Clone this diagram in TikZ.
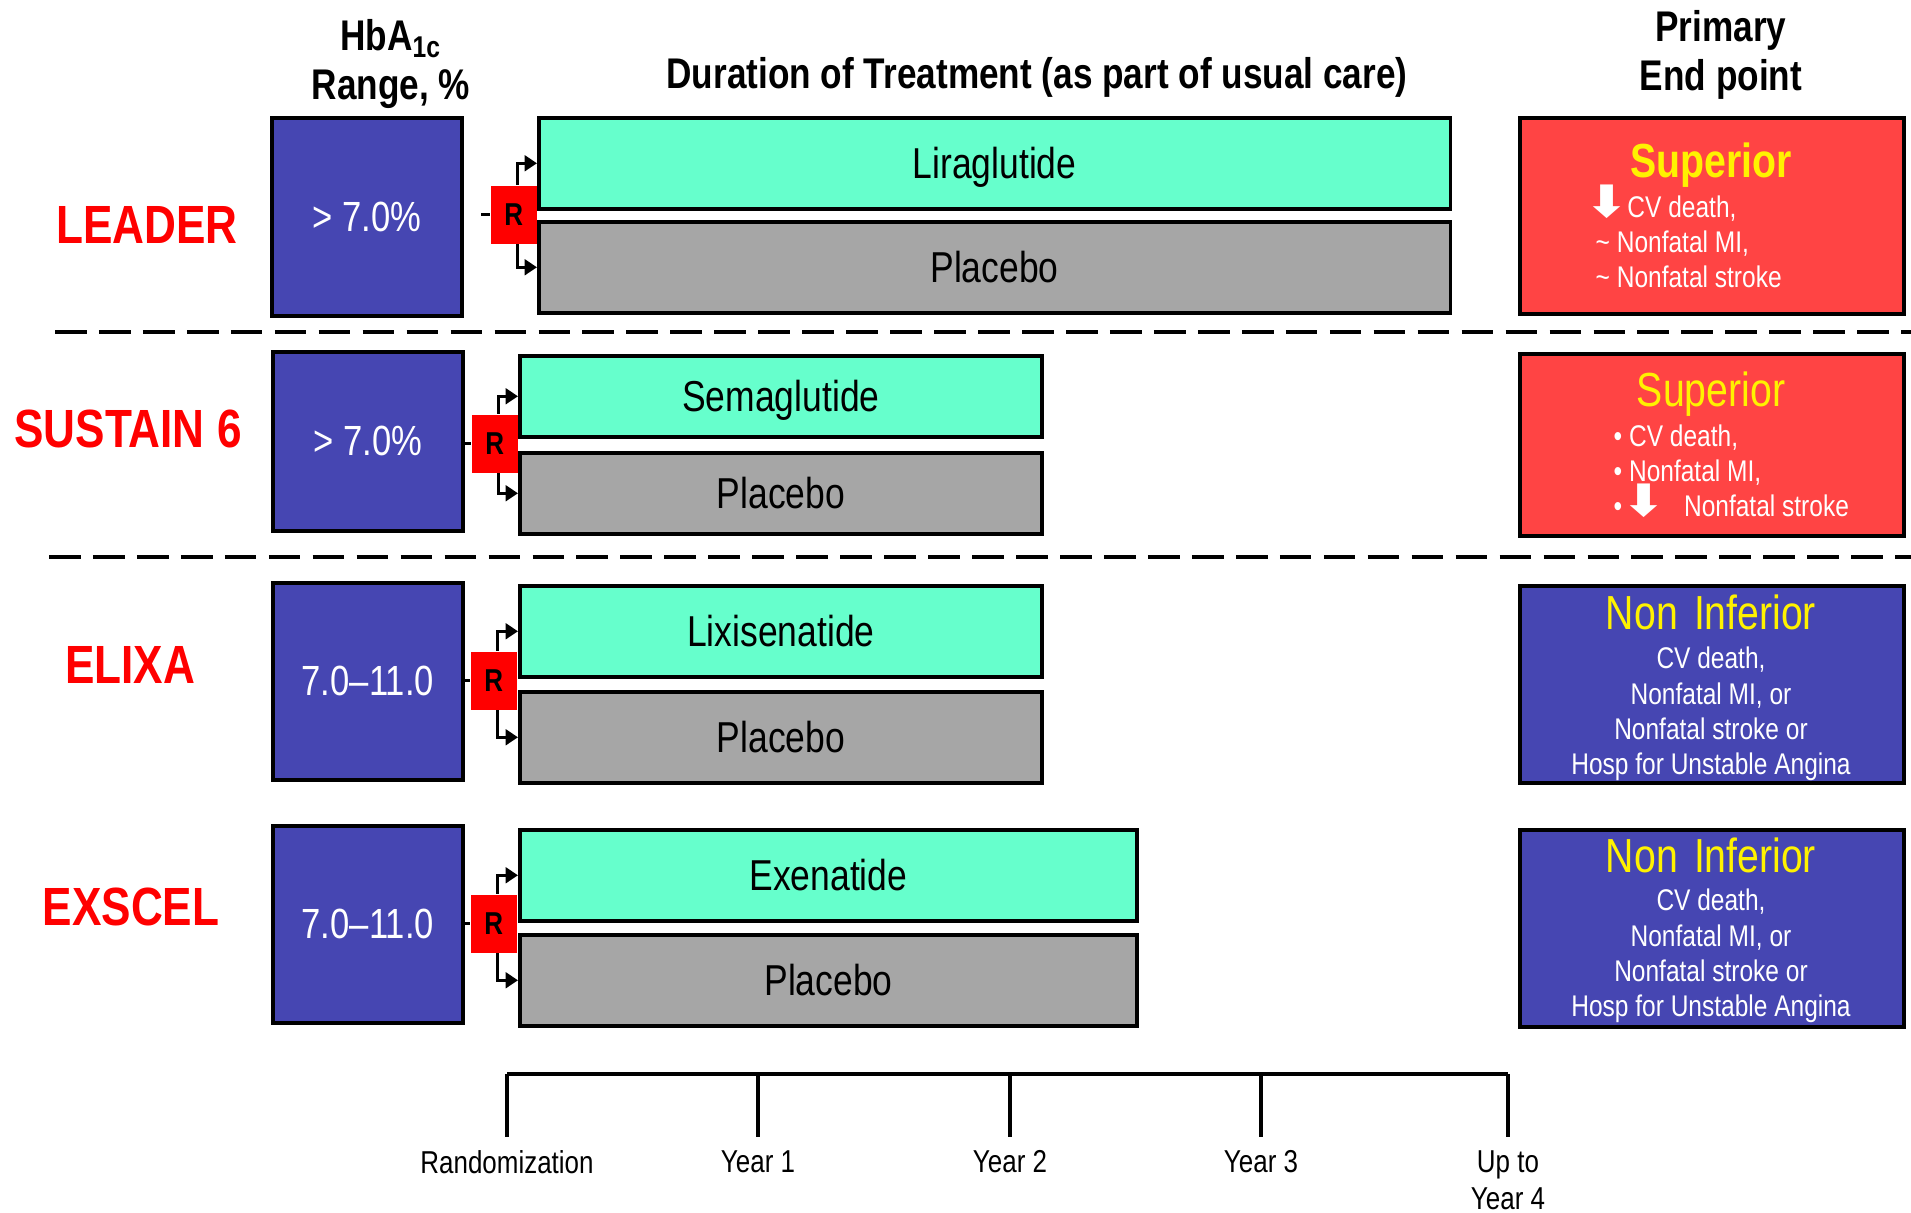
\documentclass[tikz,border=0pt]{standalone}
\usepackage{fontspec}
\setmainfont{Liberation Sans}[FakeStretch=0.82]
\newfontfamily\arrowfont{DejaVu Sans}
\usetikzlibrary{arrows.meta, calc}
\tikzset{>={Triangle[length=3.5pt,width=4.4pt]}}
\definecolor{hbblue}{RGB}{70,70,178}
\definecolor{druggreen}{RGB}{102,255,204}
\definecolor{pbogray}{RGB}{166,166,166}
\definecolor{epred}{RGB}{255,68,68}
\definecolor{trialred}{RGB}{255,0,0}
\newcommand{\downmark}{{\arrowfont\bfseries\fontsize{12.7}{10}\selectfont\smash{\scalebox{1.15}[1]{⬇}}}}

\begin{document}
\begin{tikzpicture}[x=0.01cm, y=-0.01cm,
    trial/.style={anchor=base, text=trialred, font=\fontsize{15.3}{18}\selectfont\bfseries},
    colhead/.style={align=center, font=\fontsize{12.2}{13.8}\selectfont\bfseries},
    hbbox/.style={draw, line width=1pt, fill=hbblue, text=white, anchor=north west, inner sep=0pt, minimum width=1.9cm, font=\fontsize{12}{14}\selectfont},
    rbox/.style={fill=trialred, anchor=north west, inner sep=0pt, minimum width=0.46cm, minimum height=0.58cm, font=\fontsize{9}{10}\selectfont\bfseries},
    drugbox/.style={draw, line width=1pt, fill=druggreen, anchor=north west, inner sep=0pt, text depth=0pt, minimum height=0.91cm, font=\fontsize{12.3}{14}\selectfont},
    pbobox/.style={drugbox, fill=pbogray},
    endbox/.style={draw, line width=1pt, anchor=north west, inner sep=0pt, minimum width=3.84cm, minimum height=1.97cm},
    endtitle/.style={anchor=base, text=yellow, font=\fontsize{13.6}{16}\selectfont},
    endlist/.style={text=white, inner sep=0pt, font=\fontsize{8.5}{10}\selectfont},
    stub/.style={line width=0.9pt},
    split/.style={line width=0.9pt, ->},
    rowsep/.style={line width=1.15pt, dash pattern=on 9pt off 3.5pt},
    yearlab/.style={anchor=north, align=center, inner xsep=0pt, inner ysep=3.7pt, font=\fontsize{9}{10.6}\selectfont},
    tick/.style={line width=0.9pt},
    axis/.style={line width=1.4pt},
  ]
    \useasboundingbox (0,0) rectangle (1911,1213);

    \node[colhead] (hbhead) at (391,64) {HbA\textsubscript{1c}\\Range, \%};
    \node[colhead, anchor=base] (durhead) at (1037,89) {Duration of Treatment (as part of usual care)};
    \node[colhead] (endhead) at (1721,55) {Primary\\End point};

    \node[trial] (leader) at (147,244) {LEADER};
    \node[hbbox, minimum height=1.98cm] (leaderhb) at (270,116) {> 7.0\%};
    \node[rbox] (leaderR) at (490,185) {R};
    \node[drugbox, minimum width=9.11cm] (leaderdrug) at (537,116) {Liraglutide};
    \node[pbobox, minimum width=9.11cm] (leaderpbo) at (537,220) {Placebo};
    \node[endbox, fill=epred, minimum height=1.96cm] (leaderend) at (1518,116) {};
    \node[endtitle, font=\fontsize{13.6}{16}\selectfont\bfseries] (leadersup) at (1711,178) {Superior};
    \node[endlist, align=left, anchor=west] (leaderlist) at (1595,242) {\hspace*{-3pt}\downmark\hspace{-0.2pt}CV death,\\\textasciitilde{} Nonfatal MI,\\\textasciitilde{} Nonfatal stroke};
    \draw[stub] ([xshift=-2.5pt]leaderR.west) -- (leaderR.west);
    \draw[split] ([xshift=1pt]leaderR.north) |- (leaderdrug.west);
    \draw[split] ([xshift=1pt]leaderR.south) |- (leaderpbo.west);
    \draw[rowsep] (55,332) -- (1911,332);

    \node[trial] (sustain) at (128,448) {SUSTAIN 6};
    \node[hbbox, minimum height=1.79cm] (sustainhb) at (271,350) {> 7.0\%};
    \node[rbox] (sustainR) at (471,414) {R};
    \node[drugbox, minimum width=5.22cm, minimum height=0.81cm] (sustaindrug) at (518,354) {Semaglutide};
    \node[pbobox, minimum width=5.22cm, minimum height=0.81cm] (sustainpbo) at (518,451) {Placebo};
    \node[endbox, fill=epred, minimum height=1.82cm] (sustainend) at (1518,352) {};
    \node[endtitle] (sustainsup) at (1711,407) {Superior};
    \node[endlist, align=left, anchor=west] (sustainlist) at (1613,471) {• CV death,\\• Nonfatal MI,\\• \hspace{-1.8pt}\downmark\hspace{5.2pt}Nonfatal stroke};
    \draw[stub] (sustainhb.east |- sustainR.west) -- (sustainR.west);
    \draw[split] ([xshift=1pt]sustainR.north) |- (sustaindrug.west);
    \draw[split] ([xshift=1pt]sustainR.south) |- (sustainpbo.west);
    \draw[rowsep] (49,557) -- (1911,557);

    \node[trial] (elixa) at (130,684) {ELIXA};
    \node[hbbox, minimum height=1.97cm] (elixahb) at (271,581) {7.0--11.0};
    \node[rbox] (elixaR) at (470,651) {R};
    \node[drugbox, minimum width=5.22cm] (elixadrug) at (518,584) {Lixisenatide};
    \node[pbobox, minimum width=5.22cm] (elixapbo) at (518,690) {Placebo};
    \node[endbox, fill=hbblue] (elixaend) at (1518,584) {};
    \node[endtitle] (elixanon) at (1711,630) {Non\hspace{1.5pt} Inferior};
    \node[endlist, align=center] (elixalist) at (1711,714) {CV death,\\Nonfatal MI, or\\Nonfatal stroke or\\Hosp for Unstable Angina};
    \draw[stub] (elixahb.east |- elixaR.west) -- (elixaR.west);
    \draw[split] ([xshift=1pt]elixaR.north) |- (elixadrug.west);
    \draw[split] ([xshift=1pt]elixaR.south) |- (elixapbo.west);

    \node[trial] (exscel) at (131,926) {EXSCEL};
    \node[hbbox, minimum height=1.97cm] (exscelhb) at (271,824) {7.0--11.0};
    \node[rbox] (exscelR) at (470,894) {R};
    \node[drugbox, minimum width=6.17cm] (exsceldrug) at (518,828) {Exenatide};
    \node[pbobox, minimum width=6.17cm] (exscelpbo) at (518,933) {Placebo};
    \node[endbox, fill=hbblue] (exscelend) at (1518,828) {};
    \node[endtitle] (exscelnon) at (1711,873) {Non\hspace{1.5pt} Inferior};
    \node[endlist, align=center] (exscellist) at (1711,956) {CV death,\\Nonfatal MI, or\\Nonfatal stroke or\\Hosp for Unstable Angina};
    \draw[stub] (exscelhb.east |- exscelR.west) -- (exscelR.west);
    \draw[split] ([xshift=1pt]exscelR.north) |- (exsceldrug.west);
    \draw[split] ([xshift=1pt]exscelR.south) |- (exscelpbo.west);

    \foreach \x/\i/\txt in {507/0/Randomization, 758/1/Year 1, 1010/2/Year 2, 1261/3/Year 3, 1508/4/{Up to\\Year 4}}{
      \coordinate (t\i) at (\x,1074);
      \node[yearlab] (y\i) at (\x,1137) {\txt};
      \draw[tick] (t\i) -- (y\i.north);
    }
    \draw[axis] (t0) -- (t4);
\end{tikzpicture}
\end{document}
